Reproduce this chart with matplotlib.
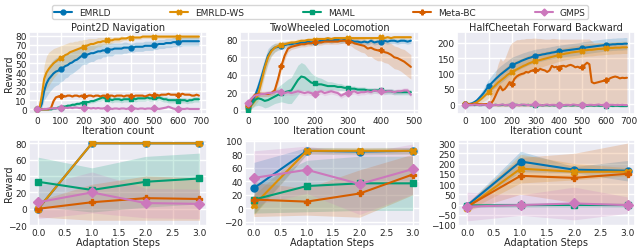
import numpy as np
import matplotlib
matplotlib.use("Agg")
import matplotlib.pyplot as plt
import matplotlib.transforms as mtransforms
from matplotlib import font_manager
import seaborn as sns

sns.set_theme(style="darkgrid")
_avail = {f.name for f in font_manager.fontManager.ttflist}
_fam = [f for f in ["Liberation Sans Narrow", "DejaVu Sans Condensed"] if f in _avail]
plt.rcParams['font.family'] = _fam + ['DejaVu Sans']
NARROW = bool(_fam)

methods = ["EMRLD", "EMRLD-WS", "MAML", "Meta-BC", "GMPS"]
colors = ["#0173b2", "#de8f05", "#029e73", "#d55e00", "#cc78bc"]
markers = ["o", "X", "s", "P", "D"]

# ---------------- Point2D Navigation (training) ----------------
p2d_iters = list(range(0, 700, 10))
p2d_emrld = [0, 0, 6, 20, 28, 33, 36, 39, 41, 42,
             44, 45, 47, 48, 50, 51, 53, 54, 56, 58,
             59, 59, 60, 61, 61, 62, 63, 63, 64, 64,
             65, 65, 65, 66, 66, 66, 66, 67, 67, 67,
             67, 67, 68, 68, 68, 68, 69, 69, 69, 69,
             70, 70, 71, 71, 71, 72, 72, 72, 73, 73,
             73, 73, 74, 74, 74, 74, 74, 74, 74, 74]
p2d_emrld_sd = [0, 1, 5, 10, 14, 15, 15, 15, 15, 15,
                14, 14, 13, 13, 12, 12, 12, 11, 11, 10,
                10, 10, 9, 9, 9, 8, 8, 8, 7, 7,
                7, 7, 7, 6, 6, 6, 6, 6, 6, 5,
                5, 5, 5, 5, 5, 5, 5, 5, 5, 5,
                5, 5, 5, 5, 5, 5, 5, 5, 5, 5,
                5, 5, 5, 5, 5, 5, 5, 5, 5, 5]
p2d_ws = [0, 1, 15, 33, 40, 44, 47, 50, 52, 54,
          56, 57, 59, 60, 62, 63, 64, 65, 66, 67,
          68, 69, 70, 71, 71, 72, 73, 73, 74, 74,
          75, 75, 75, 76, 76, 76, 77, 77, 77, 78,
          78, 78, 78, 78, 78, 79, 79, 79, 79, 79,
          79, 79, 79, 79, 79, 79, 79, 79, 79, 79,
          79, 79, 79, 79, 79, 79, 79, 79, 79, 79]
p2d_ws_sd = [0, 1, 8, 15, 18, 18, 17, 16, 15, 14,
             13, 13, 12, 12, 11, 10, 10, 9, 9, 8,
             8, 7, 7, 6, 6, 5, 5, 5, 4, 4,
             4, 4, 3, 3, 3, 3, 3, 2, 2, 2,
             2, 2, 2, 2, 2, 2, 2, 2, 2, 2,
             2, 2, 2, 2, 2, 2, 2, 2, 2, 2,
             2, 2, 2, 2, 2, 2, 2, 2, 2, 2]
p2d_maml = [0, 0, 0, 0, 0, 0, 0, 1, 1, 2,
            2, 3, 3, 4, 4, 5, 5, 6, 6, 7,
            7, 8, 8, 9, 9, 10, 11, 12, 13, 12,
            11, 11, 10, 11, 11, 11, 10, 11, 11, 11,
            11, 12, 11, 12, 12, 12, 12, 13, 12, 12,
            13, 12, 13, 12, 11, 11, 10, 10, 10, 10,
            9, 10, 10, 10, 9, 10, 10, 11, 11, 11]
p2d_maml_sd = [0, 0, 0, 0, 0, 0, 1, 1, 1, 1,
               2, 2, 2, 2, 2, 2, 2, 2, 2, 2,
               2, 2, 2, 2, 2, 2, 2, 3, 3, 3,
               3, 3, 3, 3, 3, 3, 3, 3, 3, 3,
               3, 3, 3, 3, 3, 3, 3, 3, 3, 3,
               3, 3, 3, 3, 3, 3, 3, 3, 3, 3,
               3, 3, 3, 3, 3, 3, 3, 3, 3, 3]
p2d_bc = [0, 0, 0, 0, 0, 0, 2, 9, 13, 14,
          14, 15, 14, 15, 15, 14, 15, 15, 14, 15,
          15, 14, 15, 15, 14, 15, 15, 14, 15, 15,
          14, 15, 15, 14, 15, 15, 15, 14, 15, 15,
          15, 14, 15, 15, 15, 15, 14, 15, 16, 15,
          16, 16, 15, 16, 16, 16, 17, 16, 16, 16,
          16, 16, 17, 16, 16, 16, 15, 15, 16, 15]
p2d_bc_sd = [0, 0, 0, 0, 0, 0, 1, 2, 1, 1,
             1, 1, 1, 1, 1, 1, 1, 1, 1, 1,
             1, 1, 1, 1, 1, 1, 1, 1, 1, 1,
             1, 1, 1, 1, 1, 1, 1, 1, 1, 1,
             1, 1, 1, 1, 1, 1, 1, 1, 1, 1,
             1, 1, 1, 1, 1, 1, 1, 1, 1, 1,
             1, 1, 1, 1, 1, 1, 1, 1, 1, 1]
p2d_gmps = [0, 0, 0, 0.5, 0.5, 1, 1, 1, 1.5, 1,
            1.5, 1.5, 2, 1.5, 2, 1.5, 2, 2, 1.5, 2,
            1.5, 2, 1.5, 1, 1.5, 1, 1.5, 1, 1, 1.5,
            1, 1, 0.5, 1, 1, 0.5, 1, 1, 0.5, 1,
            1, 0.5, 1, 0.5, 1, 1, 0.5, 1, 1, 0.5,
            1, 1, 0.5, 1, 1.5, 2, 3, 2, 1, 0.5,
            0.5, 1, 0.5, 0.5, 1, 0.5, 0.5, 0.5, 0.5, 0.5]
p2d_gmps_sd = [1] * 70

# ---------------- TwoWheeled Locomotion (training) ----------------
tw_iters = list(range(0, 500, 10))
tw_emrld = [3, 8, 15, 25, 37, 50, 62, 68, 71, 72,
            73, 74, 75, 75, 76, 76, 77, 77, 78, 77,
            78, 78, 79, 79, 80, 79, 80, 80, 79, 80,
            80, 79, 78, 78, 77, 78, 77, 79, 77, 78,
            78, 79, 78, 79, 79, 78, 79, 79, 78, 79]
tw_emrld_sd = [2, 4, 6, 8, 9, 9, 8, 6, 5, 4,
               4, 4, 3, 3, 3, 3, 3, 3, 3, 3,
               3, 3, 3, 3, 3, 3, 3, 3, 3, 3,
               3, 3, 3, 3, 3, 3, 3, 3, 3, 3,
               3, 3, 3, 3, 3, 3, 3, 3, 3, 3]
tw_ws = [2, 5, 10, 17, 32, 48, 60, 67, 71, 73,
         74, 75, 76, 77, 77, 78, 79, 79, 80, 80,
         80, 81, 81, 81, 82, 81, 82, 82, 82, 82,
         82, 82, 82, 82, 82, 82, 82, 82, 82, 82,
         83, 82, 83, 82, 83, 83, 83, 83, 83, 83]
tw_ws_sd = [2, 3, 5, 7, 9, 9, 8, 6, 5, 4,
            4, 3, 3, 3, 3, 3, 2, 2, 2, 2,
            2, 2, 2, 2, 2, 2, 2, 2, 2, 2,
            2, 2, 2, 2, 2, 2, 2, 2, 2, 2,
            2, 2, 2, 2, 2, 2, 2, 2, 2, 2]
tw_bc = [5, 12, 17, 18, 18, 18, 18, 19, 22, 35,
         50, 62, 70, 72, 73, 74, 75, 75, 76, 76,
         77, 77, 77, 78, 78, 78, 78, 78, 79, 79,
         78, 78, 76, 75, 74, 73, 70, 71, 69, 68,
         68, 66, 65, 63, 60, 59, 57, 55, 52, 49]
tw_bc_sd = [3, 3, 3, 3, 3, 3, 3, 3, 4, 6,
            6, 5, 4, 3, 3, 3, 3, 3, 3, 3,
            3, 3, 3, 3, 3, 3, 3, 3, 3, 3,
            4, 5, 6, 7, 8, 8, 9, 10, 11, 12,
            12, 12, 12, 13, 13, 13, 13, 14, 14, 14]
tw_maml = [0, 6, 11, 13, 12, 10, 11, 13, 15, 17,
           19, 20, 21, 22, 28, 34, 38, 37, 34, 31,
           30, 29, 29, 28, 27, 27, 27, 26, 26, 25,
           25, 24, 24, 23, 23, 23, 22, 22, 22, 22,
           22, 21, 21, 21, 20, 20, 20, 20, 20, 20]
tw_maml_sd = [2, 5, 7, 8, 8, 8, 8, 8, 8, 9,
              10, 12, 14, 15, 16, 17, 16, 15, 13, 11,
              9, 8, 7, 6, 5, 5, 4, 4, 4, 3,
              3, 3, 3, 3, 3, 3, 3, 3, 3, 3,
              3, 3, 3, 3, 3, 3, 3, 3, 3, 3]
tw_gmps = [8, 13, 16, 17, 18, 18, 19, 19, 20, 21,
           20, 19, 20, 19, 20, 21, 20, 19, 20, 19,
           18, 20, 21, 19, 20, 21, 20, 19, 16, 18,
           19, 20, 21, 19, 20, 20, 21, 20, 22, 21,
           21, 20, 21, 21, 20, 21, 21, 22, 22, 17]
tw_gmps_sd = [3] * 50

# ---------------- HalfCheetah Forward Backward (training) ----------------
hc_iters = list(range(0, 700, 10))
hc_emrld = [0, 0, 1, 3, 7, 12, 20, 28, 37, 48,
            58, 66, 74, 82, 89, 96, 102, 108, 114, 120,
            127, 130, 134, 137, 141, 144, 147, 150, 152, 155,
            157, 159, 160, 162, 163, 165, 166, 168, 169, 171,
            172, 173, 174, 175, 176, 177, 178, 179, 180, 181,
            183, 184, 185, 186, 187, 188, 189, 190, 191, 192,
            193, 194, 194, 195, 195, 196, 196, 196, 197, 197]
hc_emrld_sd = [1, 1, 2, 3, 5, 7, 10, 13, 16, 19,
               22, 24, 26, 27, 28, 28, 28, 28, 27, 27,
               26, 26, 25, 25, 24, 24, 23, 23, 22, 22,
               22, 21, 21, 21, 20, 20, 20, 20, 20, 20,
               20, 20, 20, 20, 20, 20, 20, 20, 20, 20,
               20, 20, 20, 20, 20, 20, 20, 20, 20, 20,
               20, 20, 20, 20, 20, 20, 20, 20, 20, 20]
hc_ws = [0, 0, 0, 1, 3, 6, 12, 18, 25, 32,
         40, 47, 55, 62, 70, 76, 82, 88, 95, 100,
         105, 109, 113, 117, 121, 125, 128, 132, 135, 138,
         140, 142, 144, 146, 148, 150, 152, 154, 156, 158,
         160, 162, 163, 165, 166, 168, 169, 170, 171, 172,
         174, 175, 176, 177, 177, 178, 179, 180, 180, 181,
         182, 182, 183, 183, 184, 184, 184, 185, 185, 185]
hc_ws_sd = [1, 1, 2, 3, 4, 6, 9, 12, 15, 18,
            21, 23, 25, 27, 28, 29, 30, 30, 30, 30,
            30, 30, 29, 29, 28, 28, 27, 27, 26, 26,
            25, 25, 24, 24, 23, 23, 22, 22, 22, 21,
            21, 21, 20, 20, 20, 20, 20, 20, 20, 20,
            20, 20, 20, 20, 20, 20, 20, 20, 20, 20,
            20, 20, 20, 20, 20, 20, 20, 20, 20, 20]
hc_bc = [0, 0, 0, 0, 0, 0, 0, 0, 0, 0,
         0, 2, 12, 28, 45, 58, 45, 50, 60, 72,
         65, 82, 90, 95, 98, 100, 105, 103, 108, 110,
         112, 108, 115, 112, 110, 105, 110, 125, 120, 122,
         118, 124, 125, 122, 126, 128, 125, 120, 122, 118,
         120, 128, 135, 130, 72, 68, 70, 72, 74, 76,
         78, 80, 85, 88, 90, 88, 84, 86, 85, 86]
hc_bc_lo = [0, 0, 0, 0, 0, 0, 0, 0, 0, -2,
            -3, -5, -6, -8, -8, -8, -8, -8, -8, -8,
            -8, -8, -8, -8, -8, -8, -8, -8, -8, -8,
            -8, -8, -8, -8, -8, -8, -8, -8, -8, -8,
            -8, -8, -8, -8, -8, -8, -8, -8, -8, -8,
            -8, -8, -8, -8, -8, -8, -8, -8, -8, -8,
            -8, -8, -8, -8, -8, -8, -8, -8, -8, -8]
hc_bc_hi = [0, 0, 0, 0, 0, 0, 0, 0, 2, 5,
            10, 30, 60, 100, 130, 150, 140, 150, 170, 190,
            200, 205, 210, 210, 212, 212, 214, 214, 214, 215,
            215, 214, 214, 213, 212, 212, 212, 214, 214, 213,
            212, 212, 212, 212, 212, 212, 212, 212, 212, 212,
            212, 212, 212, 212, 205, 200, 200, 200, 200, 200,
            200, 200, 200, 200, 200, 200, 200, 200, 200, 200]
hc_maml = [-2, -2, -3, -2, -3, -2, -3, -3, -2, -3,
           -2, -3, -3, -2, -3, -3, -2, -3, -3, -2,
           -3, -3, -2, -3, -2, -3, -3, -2, -4, -3,
           -3, -4, -3, -4, -3, -3, -4, -3, -4, -3,
           -4, -3, -4, -4, -3, -4, -4, -3, -4, -4,
           -4, -4, -5, -4, -4, -5, -4, -5, -5, -4,
           -5, -5, -5, -6, -5, -5, -6, -6, -6, -6]
hc_maml_sd = [3] * 70
hc_gmps = [-2, -3, -2, -3, -1, -2, -3, -2, -2, -3,
           -2, -1, -3, -2, -3, -2, -1, -3, -2, -2,
           -3, -1, -2, -3, -2, -1, -2, -3, -2, -2,
           0, -3, -2, -4, -2, -1, -3, -2, -2, -3,
           -2, -1, -3, -2, -2, -3, -1, -2, -3, -2,
           -2, -1, -3, -2, -2, -3, -2, -1, -3, -2,
           -2, -3, -2, -2, -3, -2, -3, -2, -3, -3]
hc_gmps_sd = [4] * 70

# ---------------- Adaptation (test) ----------------
steps = [0.0, 1.0, 2.0, 3.0]

ad_p2d = {
    "EMRLD":    ([0, 80, 80, 80], [1, 1, 1, 1]),
    "EMRLD-WS": ([0, 80, 80, 80], [1, 1, 1, 1]),
    "MAML":     ([33, 23, 33, 37], [30, 27, 31, 31]),
    "Meta-BC":  ([0, 8, 13, 12], [10, 22, 27, 26]),
    "GMPS":     ([8, 20, 7, 6], [20, 25, 18, 18]),
}
ad_tw = {
    "EMRLD":    ([30, 85, 84, 85], [38, 5, 5, 5]),
    "EMRLD-WS": ([5, 85, 85, 85], [15, 5, 5, 5]),
    "MAML":     ([13, 33, 37, 37], [20, 38, 40, 40]),
    "Meta-BC":  ([13, 10, 22, 50], [25, 20, 35, 30]),
    "GMPS":     ([45, 57, 36, 58], [40, 35, 45, 37]),
}
ad_hc = {
    "EMRLD":    ([-5, 210, 170, 165], [10, 50, 15, 50]),
    "EMRLD-WS": ([-15, 175, 160, 160], [15, 70, 40, 20]),
    "MAML":     ([-5, -3, -2, -3], [10, 10, 10, 10]),
    "Meta-BC":  ([-10, 140, 130, 150], [20, 90, 120, 150]),
    "GMPS":     ([-10, -3, 5, -3], [70, 50, 80, 40]),
}

train_data = [
    ("Point2D Navigation", p2d_iters,
     [(p2d_emrld, p2d_emrld_sd), (p2d_ws, p2d_ws_sd), (p2d_maml, p2d_maml_sd),
      (p2d_bc, p2d_bc_sd), (p2d_gmps, p2d_gmps_sd)],
     (-5, 84), list(range(0, 81, 10))),
    ("TwoWheeled Locomotion", tw_iters,
     [(tw_emrld, tw_emrld_sd), (tw_ws, tw_ws_sd), (tw_maml, tw_maml_sd),
      (tw_bc, tw_bc_sd), (tw_gmps, tw_gmps_sd)],
     (-5, 89), list(range(0, 81, 20))),
    ("HalfCheetah Forward Backward", hc_iters,
     [(hc_emrld, hc_emrld_sd), (hc_ws, hc_ws_sd), (hc_maml, hc_maml_sd),
      (hc_bc, None), (hc_gmps, hc_gmps_sd)],
     (-32, 235), list(range(0, 201, 50))),
]

W, H = 640, 251
fig = plt.figure(figsize=(W / 100, H / 100), dpi=100)

def rect(x0, x1, y0, y1):
    return [x0 / W, 1 - y1 / H, (x1 - x0) / W, (y1 - y0) / H]

top_rects = [rect(29, 207, 33, 115), rect(240, 419, 33, 115), rect(457, 635, 33, 115)]
bot_rects = [rect(29, 207, 141, 227), rect(245, 420, 141, 227), rect(458, 635, 141, 227)]

FS = 9.5 if NARROW else 6.5
LFS = FS + 0.5


def place_ylabel(ax):
    ax.set_ylabel("Reward", fontsize=LFS)
    tr = mtransforms.blended_transform_factory(fig.transFigure, ax.transAxes)
    ax.yaxis.set_label_coords(14 / W, 0.5, transform=tr)


handles = []
for i, (title, xs, series, ylim, yt) in enumerate(train_data):
    ax = fig.add_axes(top_rects[i])
    xs_a = np.array(xs)
    for j, (m, s) in enumerate(series):
        m = np.array(m, dtype=float)
        if s is None:
            lo, hi = np.array(hc_bc_lo), np.array(hc_bc_hi)
        else:
            s = np.array(s, dtype=float)
            lo, hi = m - s, m + s
        ax.fill_between(xs_a, lo, hi, color=colors[j], alpha=0.2, lw=0)
        ln, = ax.plot(xs_a, m, color=colors[j], lw=1.5, marker=markers[j],
                      markersize=3.5, markevery=10, label=methods[j])
        if i == 0:
            handles.append(ln)
    ax.set_xlim(xs[0] - 0.05 * (xs[-1] - xs[0]), xs[-1] + 0.05 * (xs[-1] - xs[0]))
    ax.set_ylim(*ylim)
    ax.set_yticks(yt)
    ax.set_xticks(list(range(0, xs[-1] + 20, 100)))
    ax.set_title(title, fontsize=LFS, pad=1.5)
    ax.set_xlabel("Iteration count", fontsize=LFS, labelpad=0)
    ax.tick_params(labelsize=FS, pad=1.5, length=0)
    if i == 0:
        place_ylabel(ax)

ad_sets = [(ad_p2d, (-21, 84), list(range(-20, 81, 20))),
           (ad_tw, (-26, 101), list(range(-20, 101, 20))),
           (ad_hc, (-105, 315), list(range(-100, 301, 50)))]
for i, (d, ylim, yt) in enumerate(ad_sets):
    ax = fig.add_axes(bot_rects[i])
    for j, name in enumerate(methods):
        m, s = d[name]
        m = np.array(m, dtype=float)
        s = np.array(s, dtype=float)
        ax.fill_between(steps, m - s, m + s, color=colors[j], alpha=0.2, lw=0)
        ax.plot(steps, m, color=colors[j], lw=1.5, marker=markers[j], markersize=5)
    ax.set_xlim(-0.17, 3.14)
    ax.set_ylim(*ylim)
    ax.set_yticks(yt)
    ax.set_xticks([0.0, 0.5, 1.0, 1.5, 2.0, 2.5, 3.0])
    ax.set_xlabel("Adaptation Steps", fontsize=LFS, labelpad=0)
    ax.tick_params(labelsize=FS, pad=1.5, length=0)
    if i == 0:
        place_ylabel(ax)

fig.legend(handles, methods, loc="lower left", ncol=5, mode="expand",
           bbox_to_anchor=(52 / W, 1 - 20 / H, (588 - 52) / W, 18 / H),
           fontsize=FS, frameon=True, borderaxespad=0, handlelength=2.0,
           borderpad=0.25, facecolor="white", edgecolor="#cccccc")

fig.savefig("out.png", dpi=100)
